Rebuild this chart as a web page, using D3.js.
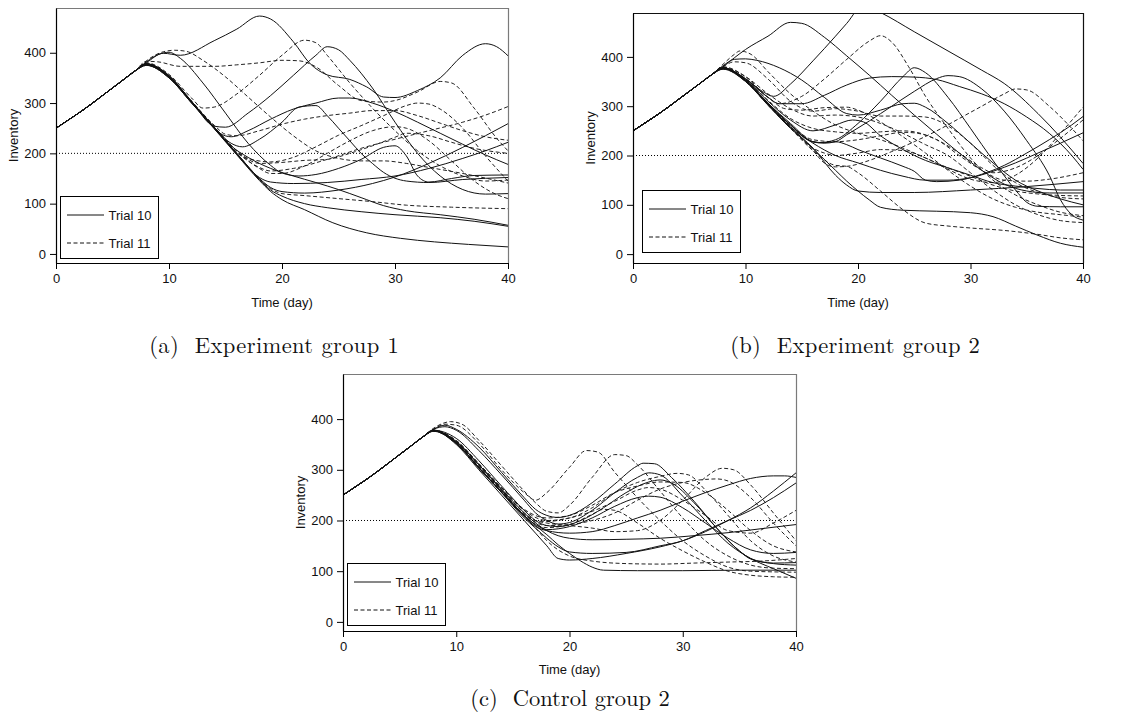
<!DOCTYPE html>
<html>
<head>
<meta charset="utf-8">
<script src="https://cdn.jsdelivr.net/npm/d3@7"></script>
<style>
  body { margin: 0; background: #fff; }
  svg { display: block; }
  .tick text, .lbl { font-family: "Liberation Sans", Arial, sans-serif; font-size: 13px; fill: #111; }
  .cap { font-family: "Latin Modern Roman", "CMU Serif", "Liberation Serif", serif; font-size: 22.5px; fill: #111; }
</style>
</head>
<body>
<svg id="fig" width="1140" height="726"></svg>
<script>
// Shared run-up: every trajectory starts at 250 units and climbs until about day 7.
const rampDays   = [0, 1, 2, 3, 4, 5, 6, 7];
const rampLevels = [250, 265, 280, 296, 313, 330, 347, 364];

const xTicks = [0, 10, 20, 30, 40];
const yTicks = [0, 100, 200, 300, 400];
const targetLevel = 200;
const legendLabels = ["Trial 10", "Trial 11"];
const captions = ["(a)  Experiment group 1", "(b)  Experiment group 2", "(c)  Control group 2"];

// ---- Experiment group 1: [day, inventory] after the run-up ----
const groupOneTrial10 = [
  [[8,380],[9.5,399],[11,395],[14,424],[16,447],[18,473],[19,467],[21,422],[22.5,378],[24,356],[26,347],[27.5,332],[29,312],[30,311],[32,325],[34,350],[36,395],[38,418],[39,412],[40,394]],
  [[8,378],[10,355],[12,303],[14,254],[15,252],[17,280],[19,315],[21,355],[23,395],[24,412],[25,406],[26,385],[28,330],[30,262],[32,200],[34,155],[36,128],[38,119],[40,120]],
  [[8,382],[9,396],[10,401],[11,389],[13,340],[15,280],[17,220],[19,176],[20,161],[21.5,155],[23,158],[25,170],[27,188],[29,212],[30,215],[31,195],[32,155],[33,143],[35,150],[37,156],[40,157]],
  [[8,378],[10,353],[12,302],[14,252],[15.5,220],[16.5,213],[18,228],[20,262],[21.5,292],[23,295],[24,275],[25,250],[26,225],[27,200],[28,180],[29,162],[31,145],[33,142],[36,148],[40,152]],
  [[8,378],[10,354],[12,303],[13.5,262],[14.5,240],[15.5,233],[17,245],[19,268],[21,288],[23,300],[25,310],[26,310],[28,300],[30,283],[32,262],[34,240],[36,218],[38,197],[40,178]],
  [[8,376],[10,352],[12,302],[14,250],[16,200],[18,150],[19,132],[20,124],[22,121],[25,127],[28,140],[30,153],[33,180],[36,212],[38,235],[40,259]],
  [[8,376],[10,352],[12,302],[14,250],[16,200],[18,152],[19,143],[21,140],[24,142],[27,148],[30,155],[33,170],[36,190],[38,205],[40,222]],
  [[8,377],[10,353],[12,303],[14,252],[15.5,215],[17,192],[19,170],[21,155],[23,142],[25,128],[27,112],[29,96],[31,86],[34,78],[37,69],[40,57]],
  [[8,375],[10,350],[12,300],[14,250],[16,198],[18,148],[19,127],[20,115],[22,100],[24,92],[27,84],[30,78],[34,72],[37,65],[40,55]],
  [[8,375],[10,350],[12,300],[14,249],[16,197],[18,146],[19,124],[20,108],[22,88],[24.5,62],[27.5,42],[30.5,31],[33.5,24],[36.5,19],[40,14]]
];
const groupOneTrial11 = [
  [[8,380],[10,357],[12,310],[13,290],[14,292],[16,318],[18,355],[20,395],[22,425],[23,420],[24,395],[26,340],[28,290],[30,245],[32,205],[34,175],[36,155],[38,145],[40,147]],
  [[8,383],[9,382],[11,373],[14,373],[16,376],[18,380],[20,385],[21.5,384],[23,372],[25,335],[27,305],[29,302],[30,305],[32,322],[34,343],[35,340],[37,290],[39,230],[40,205]],
  [[8,384],[9.5,402],[10.5,405],[11.5,403],[13,385],[15,352],[17,312],[19,272],[21,235],[23,205],[25,190],[27,185],[29,185],[31,180],[33,172],[36,160],[40,141]],
  [[8,377],[10,352],[12,303],[14,252],[15.5,215],[17,190],[19,183],[21,192],[23,213],[25,236],[27,255],[29,275],[31,295],[32,300],[33,298],[34,288],[36,250],[38,195],[40,145]],
  [[8,377],[10,352],[12,302],[14,252],[16,205],[17,185],[18,172],[19,165],[21,170],[24,188],[27,210],[30,228],[33,245],[36,262],[38,276],[40,293]],
  [[8,378],[10,354],[12,304],[14,256],[15,238],[16,235],[18,245],[20,258],[22,268],[24,275],[26,280],[28,285],[30,285],[32,275],[34,260],[36,245],[38,233],[40,226]],
  [[8,376],[10,351],[12,301],[14,250],[16,199],[18,150],[19,130],[20,120],[22,116],[25,110],[28,104],[31,97],[35,93],[40,90]],
  [[8,377],[10,352],[12,302],[14,252],[16,202],[17,185],[18,170],[19,160],[20,160],[22,175],[24,200],[26,225],[28,245],[30,253],[31,250],[33,225],[35,185],[37,145],[39,118],[40,110]],
  [[8,377],[10,353],[12,303],[14,253],[16,205],[17,188],[18,180],[20,182],[22,186],[24,188],[26,200],[28,215],[30,232],[31,240],[33,235],[35,222],[37,210],[40,200]]
];

// ---- Experiment group 2 ----
const groupTwoTrial10 = [
  [[8,378],[10,356],[11.5,330],[12.5,320],[14,345],[16,392],[18,442],[19,468],[20.5,505],[22,490],[25,451],[28,412],[31,373],[33,346],[36,285],[38,237],[40,184]],
  [[8,380],[9,398],[10,415],[12,442],[14,470],[15,468],[17,440],[19,402],[21,363],[23,322],[25,282],[27,243],[29,205],[31,170],[33,142],[35,128],[37,124],[40,124]],
  [[8,377],[10,355],[12,318],[13,305],[15,305],[17,322],[19,343],[21,357],[23,360],[25,359],[27,354],[29,340],[31,325],[33,305],[35,278],[37,245],[39,200],[40,172]],
  [[8,376],[10,352],[12,305],[14,262],[15.5,232],[16.5,226],[18,232],[20,265],[22,310],[24,360],[25,378],[26,368],[28,318],[30,255],[32,190],[34,130],[35,105],[36,97],[38,96],[40,96]],
  [[8,377],[10,352],[12,306],[14,265],[16,228],[17,225],[18,228],[19,242],[21,270],[23,300],[25,330],[27,356],[28,362],[29,360],[31,335],[33,290],[35,230],[37,160],[38,110],[39,80],[40,69]],
  [[8,382],[9,395],[10,396],[11,393],[13,378],[15,353],[17,318],[19,285],[20,282],[22,292],[24,305],[25,306],[26,298],[28,265],[30,225],[32,185],[34,150],[36,128],[38,112],[40,100]],
  [[8,377],[10,352],[12,305],[14,262],[16,228],[17,226],[18,228],[19,222],[20,212],[22,195],[24,178],[25,168],[26,150],[27,147],[29,150],[31,162],[33,180],[35,205],[37,232],[39,262],[40,279]],
  [[8,376],[10,351],[12,303],[14,257],[16,215],[18,160],[19,140],[20,128],[22,125],[25,125],[30,130],[35,137],[40,147]],
  [[8,375],[10,350],[12,302],[14,255],[15,235],[16,214],[18,170],[19,148],[20,128],[21,110],[22,95],[24,89],[27,87],[30,84],[32,76],[34,57],[36,38],[38,22],[40,14]],
  [[8,377],[10,352],[12,304],[14,258],[16,225],[18,200],[20,185],[22,170],[24,158],[26,150],[28,150],[30,155],[32,168],[34,185],[36,205],[38,225],[40,246]],
  [[8,378],[10,354],[12,310],[14,272],[16,250],[18,262],[19.5,272],[20.5,268],[22,240],[24,212],[26,190],[28,175],[30,160],[32,145],[34,138],[36,133],[38,130],[40,130]]
];
const groupTwoTrial11 = [
  [[8,385],[9,405],[9.5,412],[10.5,405],[12,370],[14,325],[16,290],[18,262],[20,245],[22,232],[24,215],[26,195],[28,175],[30,158],[32,140],[34,128],[36,122],[38,119],[40,118]],
  [[8,380],[10,360],[12,318],[13,305],[15,320],[17,355],[19,395],[21,432],[22,443],[23,430],[24.5,380],[26,320],[28,255],[30,195],[32,150],[34,120],[36,100],[38,85],[40,78]],
  [[8,378],[10,356],[12,318],[13.5,295],[15,292],[17,297],[19,298],[20,292],[22,268],[24,238],[26,205],[28,170],[30,138],[32,112],[34,95],[36,85],[38,80],[40,75]],
  [[8,377],[10,352],[12,305],[14,258],[16,210],[17,185],[18,177],[19,178],[21,190],[23,208],[25,228],[27,250],[29,275],[31,300],[33,325],[34,335],[35,333],[37,300],[39,255],[40,230]],
  [[8,377],[10,352],[12,305],[14,258],[16,215],[17,205],[18,200],[20,205],[22,212],[24,210],[26,195],[28,172],[30,152],[32,145],[34,160],[36,195],[38,245],[40,298]],
  [[8,376],[10,350],[12,302],[14,255],[16,210],[18,180],[19,178],[20,165],[22,128],[24,90],[26,63],[28,57],[30,53],[33,48],[36,40],[38,33],[40,29]],
  [[8,378],[10,355],[12,312],[14,275],[16,255],[18,248],[20,245],[22,248],[24,250],[25,248],[27,232],[29,205],[31,175],[32,165],[34,175],[36,200],[38,235],[40,272]],
  [[8,380],[9,390],[10,388],[12,355],[14,310],[16,290],[18,295],[20,290],[22,280],[24,280],[26,278],[28,260],[30,225],[32,180],[34,145],[36,125],[38,115],[40,112]],
  [[8,379],[10,360],[12,325],[14,295],[16,280],[18,282],[20,278],[22,265],[24,245],[26,222],[28,200],[30,165],[32,130],[34,100],[36,80],[38,68],[40,64]],
  [[8,377],[10,353],[12,306],[14,262],[16,232],[18,228],[20,232],[22,240],[24,247],[25,246],[27,232],[29,200],[31,170],[33,150],[35,148],[37,152],[40,165]]
];

// ---- Control group 2 ----
const controlTrial10 = [
  [[8,377],[10,350],[12,300],[14,250],[16,200],[17,175],[18,150],[19,125],[20,122],[22,125],[25,135],[28,148],[30,160],[32,178],[34,200],[36,225],[38,258],[40,294]],
  [[8,376],[10,352],[12,304],[14,256],[16,210],[17,190],[18,172],[19,152],[20,135],[21,120],[22,108],[23,102],[26,101],[30,101],[35,102],[40,102]],
  [[8,378],[10,356],[12,310],[14,262],[16,215],[17,195],[18,180],[19,170],[20,165],[22,162],[25,163],[28,165],[31,170],[34,176],[37,184],[40,192]],
  [[8,377],[10,352],[12,303],[14,255],[16,205],[17,185],[18,165],[19,148],[20,138],[22,135],[25,137],[28,150],[30,160],[32,180],[34,200],[36,220],[38,245],[40,274]],
  [[8,380],[9,388],[10,380],[12,345],[14,295],[16,245],[17,222],[18,210],[19,206],[20,210],[22,235],[24,272],[26,308],[26.5,313],[27.5,312],[29,285],[31,238],[33,185],[35,140],[36,124],[38,116],[40,117]],
  [[8,380],[9,385],[10,378],[12,338],[14,290],[16,240],[17,215],[18,200],[19,193],[20,196],[22,220],[24,255],[26,285],[27,294],[28,290],[30,248],[32,200],[34,155],[36,125],[38,105],[40,86]],
  [[8,378],[10,362],[12,318],[14,268],[16,220],[17,200],[18,190],[19,188],[21,200],[23,225],[25,255],[27,276],[28,280],[29,274],[31,235],[33,185],[35,140],[36,125],[38,115],[40,112]],
  [[8,377],[10,355],[12,310],[14,260],[16,210],[17,192],[18,182],[20,188],[22,205],[24,228],[26,245],[27,248],[28,246],[30,225],[32,195],[34,165],[36,142],[38,135],[40,137]],
  [[8,377],[10,353],[12,305],[14,256],[16,208],[17,188],[18,180],[20,175],[22,178],[24,190],[26,205],[28,220],[30,238],[32,255],[34,270],[36,283],[38,288],[39,288],[40,285]]
];
const controlTrial11 = [
  [[8,380],[9,390],[10,388],[12,352],[14,300],[16,255],[17,240],[18,255],[20,305],[21.5,338],[22.5,335],[24,295],[26,245],[28,200],[30,160],[32,130],[34,108],[36,100],[40,98]],
  [[8,382],[9,393],[9.5,395],[10.5,390],[12,358],[14,308],[16,258],[17,235],[18,218],[19,215],[20,230],[22,285],[24,330],[25,328],[26,310],[28,258],[30,205],[32,160],[34,130],[36,112],[38,106],[40,105]],
  [[8,378],[10,356],[12,310],[14,262],[16,215],[17,200],[18,195],[20,190],[22,185],[24,178],[26,180],[28,200],[30,240],[32,285],[33.5,303],[34.5,300],[36,270],[38,215],[40,160]],
  [[8,378],[10,358],[12,312],[14,265],[16,220],[18,200],[20,205],[22,225],[24,255],[26,275],[28,287],[29.5,293],[30.5,290],[32,260],[34,210],[36,160],[38,130],[40,118]],
  [[8,377],[10,355],[12,308],[14,260],[16,212],[18,190],[20,192],[22,200],[24,215],[26,240],[28,262],[30,275],[32,281],[33,282],[34,278],[36,245],[38,195],[40,150]],
  [[8,377],[10,353],[12,305],[14,258],[16,210],[17,192],[18,186],[20,192],[22,212],[23,222],[24,220],[26,195],[28,165],[30,140],[32,118],[34,100],[36,92],[38,89],[40,88]],
  [[8,376],[10,352],[12,303],[14,255],[16,208],[17,185],[18,160],[19,142],[20,130],[22,120],[25,115],[28,114],[31,116],[34,118],[37,120],[40,125]],
  [[8,377],[10,354],[12,306],[14,258],[16,212],[17,200],[18,198],[20,205],[22,218],[24,238],[26,260],[27,265],[28,262],[30,240],[32,210],[34,180],[36,175],[38,195],[40,220]],
  [[8,378],[10,357],[12,312],[14,265],[16,222],[18,205],[20,210],[22,230],[24,255],[26,268],[28,276],[30,275],[32,255],[34,220],[36,180],[38,150],[40,138]]
];

// Panel layout (pixel boxes of each plotting area, legend and label anchors)
const panels = [
  { key: "a", solid: groupOneTrial10, dashed: groupOneTrial11, caption: captions[0],
    box: { left: 56, right: 508, top: 8, bottom: 263 }, frameColor: "#7a7a7a",
    legend: { x: 60.5, y: 196.5 }, yTitle: { x: 13 }, xTitleY: 302, cap: { x: 274, y: 353, w: 250 } },
  { key: "b", solid: groupTwoTrial10, dashed: groupTwoTrial11, caption: captions[1],
    box: { left: 633, right: 1083, top: 13, bottom: 263 }, frameColor: "#111",
    legend: { x: 642.5, y: 190.5 }, yTitle: { x: 590 }, xTitleY: 302, cap: { x: 855, y: 353, w: 250 } },
  { key: "c", solid: controlTrial10, dashed: controlTrial11, caption: captions[2],
    box: { left: 343, right: 796, top: 374, bottom: 631 }, frameColor: "#7a7a7a",
    legend: { x: 347.5, y: 563.5 }, yTitle: { x: 300 }, xTitleY: 669, cap: { x: 570, y: 706, w: 174 } }
];

const svg = d3.select("#fig");
const ramp = rampDays.map((d, i) => [d, rampLevels[i]]);

panels.forEach(p => {
  const b = p.box;
  const x = d3.scaleLinear().domain([0, 40]).range([b.left, b.right]);
  const y = d3.scaleLinear().domain([-18, 489]).range([b.bottom, b.top]);
  const g = svg.append("g");

  g.append("clipPath").attr("id", "clip-" + p.key)
    .append("rect").attr("x", b.left).attr("y", b.top)
    .attr("width", b.right - b.left).attr("height", b.bottom - b.top);

  const line = d3.line().x(d => x(d[0])).y(d => y(d[1])).curve(d3.curveMonotoneX);
  const plot = g.append("g").attr("clip-path", `url(#clip-${p.key})`);

  // target inventory level
  plot.append("line")
    .attr("x1", b.left).attr("x2", b.right)
    .attr("y1", y(targetLevel)).attr("y2", y(targetLevel))
    .attr("stroke", "#000").attr("stroke-width", 1).attr("stroke-dasharray", "1,2");

  plot.selectAll(".t11").data(p.dashed).join("path")
    .attr("d", s => line(ramp.concat(s)))
    .attr("fill", "none").attr("stroke", "#222").attr("stroke-width", 1)
    .attr("stroke-dasharray", "4,2.5");

  plot.selectAll(".t10").data(p.solid).join("path")
    .attr("d", s => line(ramp.concat(s)))
    .attr("fill", "none").attr("stroke", "#111").attr("stroke-width", 1);

  // frame (top and right edges)
  g.append("path")
    .attr("d", `M${b.left},${b.top + 0.5}H${b.right + 0.5}V${b.bottom}`)
    .attr("fill", "none").attr("stroke", p.frameColor).attr("stroke-width", 1.2);

  // axes
  const ya = g.append("g").attr("transform", `translate(${b.left},0)`)
    .call(d3.axisLeft(y).tickValues(yTicks).tickSize(6).tickSizeOuter(0).tickPadding(4));
  const xa = g.append("g").attr("transform", `translate(0,${b.bottom})`)
    .call(d3.axisBottom(x).tickValues(xTicks).tickSize(6).tickSizeOuter(0).tickPadding(5));
  [ya, xa].forEach(a => {
    a.attr("font-size", null).attr("font-family", null);
    a.select(".domain").attr("stroke", "#000").attr("stroke-width", 1.2);
    a.selectAll(".tick line").attr("stroke", "#000");
  });

  g.append("text").attr("class", "lbl")
    .attr("transform", `translate(${p.yTitle.x},${(b.top + b.bottom) / 2}) rotate(-90)`)
    .attr("text-anchor", "middle").attr("dy", "0.35em").text("Inventory");
  g.append("text").attr("class", "lbl")
    .attr("x", (b.left + b.right) / 2).attr("y", p.xTitleY)
    .attr("text-anchor", "middle").attr("dy", "0.35em").text("Time (day)");

  // legend
  const lg = g.append("g").attr("transform", `translate(${p.legend.x},${p.legend.y})`);
  lg.append("rect").attr("width", 98).attr("height", 62)
    .attr("fill", "#fff").attr("stroke", "#000").attr("stroke-width", 1);
  legendLabels.forEach((lab, i) => {
    const ly = 18.5 + i * 28;
    lg.append("line").attr("x1", 6.5).attr("x2", 43.5).attr("y1", ly).attr("y2", ly)
      .attr("stroke", "#111").attr("stroke-width", 1)
      .attr("stroke-dasharray", i === 0 ? null : "4,2.5");
    lg.append("text").attr("class", "lbl").attr("x", 48).attr("y", ly)
      .attr("dy", "0.35em").text(lab);
  });

  // sub-figure caption, letter-spaced to its set width
  const cap = g.append("text").attr("class", "cap")
    .attr("x", p.cap.x).attr("y", p.cap.y).attr("text-anchor", "middle")
    .attr("xml:space", "preserve").style("white-space", "pre").text(p.caption);
  const natural = cap.node().getComputedTextLength();
  const n = p.caption.length;
  const ls = Math.max(0, (p.cap.w - natural) / n);
  cap.style("letter-spacing", ls + "px").attr("x", p.cap.x + ls / 2);
});
</script>
</body>
</html>
